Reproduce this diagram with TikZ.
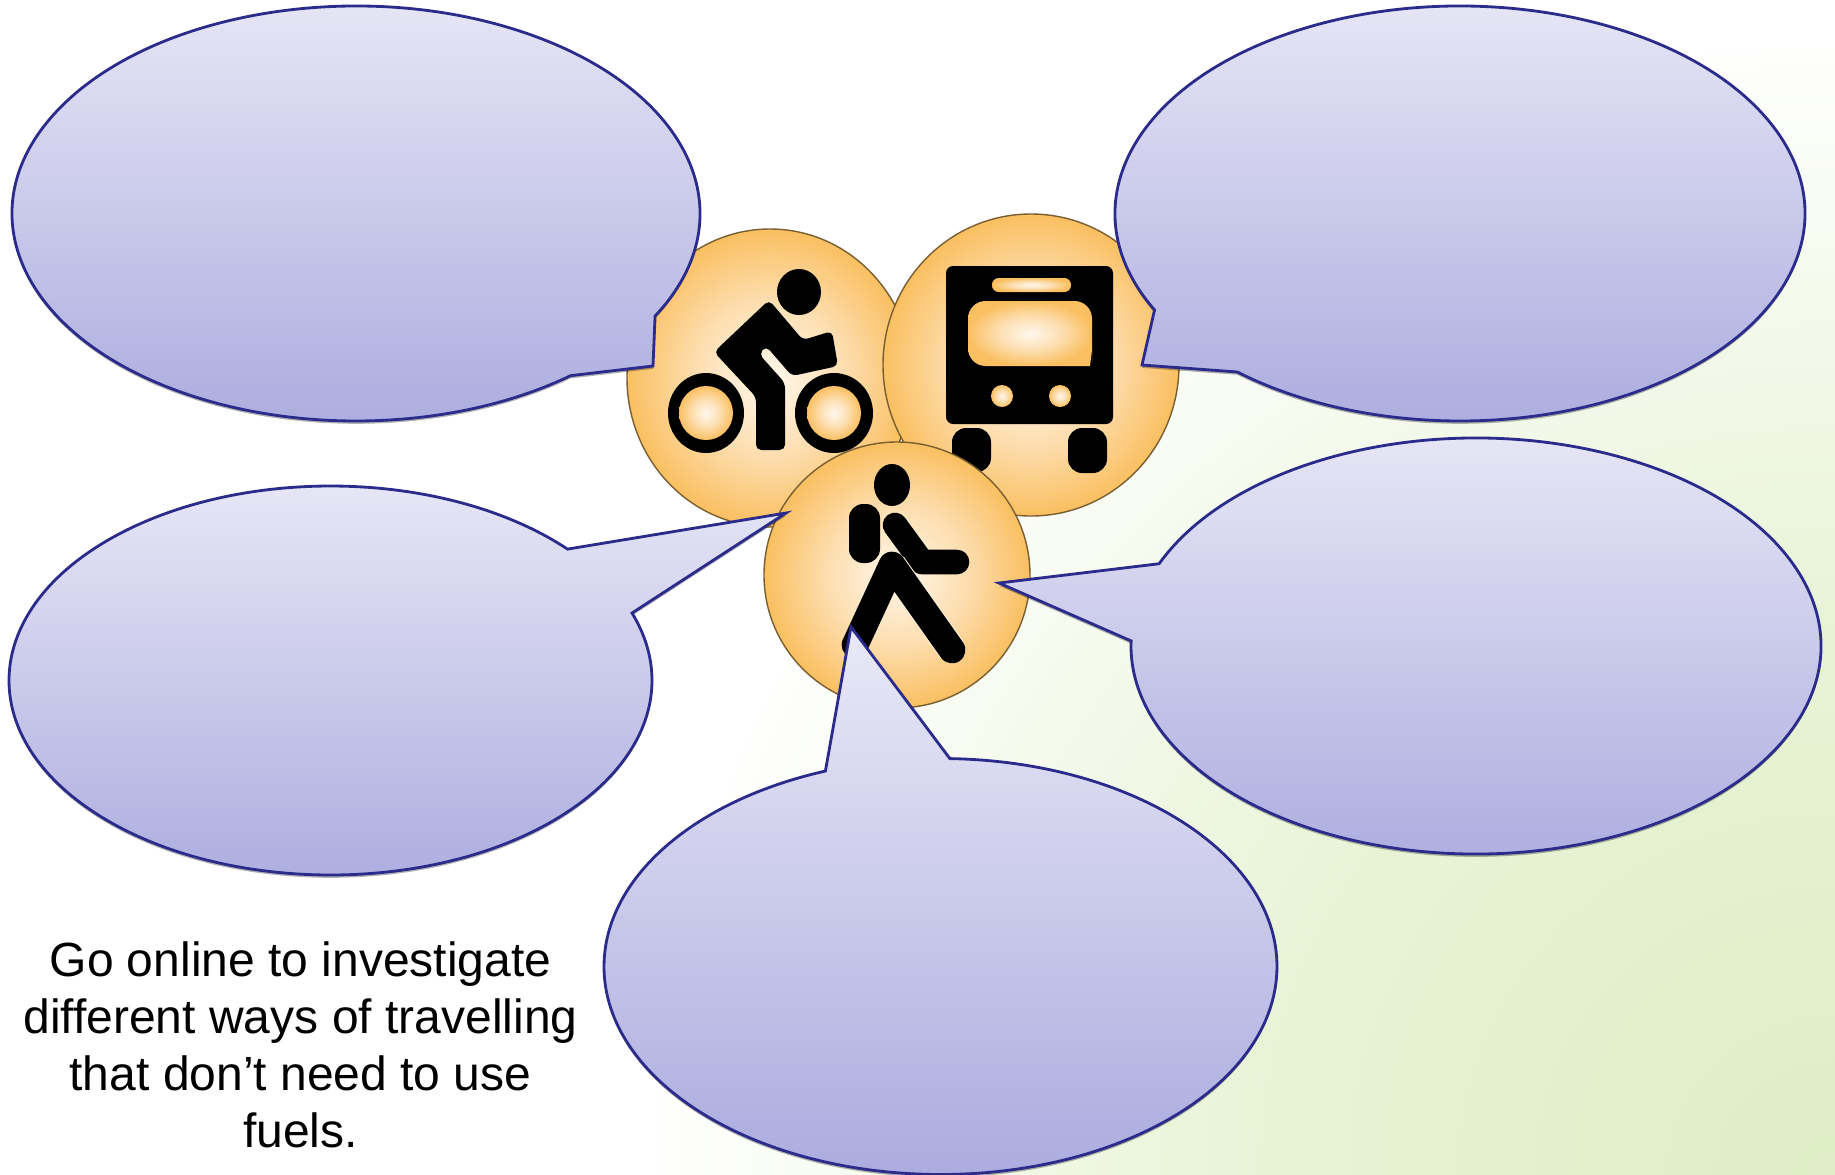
\documentclass[tikz,border=0pt]{standalone}
\usepackage{xcolor}
\usepackage{fontspec}
\setmainfont{Liberation Sans}
\usetikzlibrary{calc,shadows}

\definecolor{bubbleline}{RGB}{43,43,140}
\definecolor{bubbletop}{RGB}{233,233,247}
\definecolor{bubblebottom}{RGB}{171,171,223}
\definecolor{discline}{RGB}{120,95,50}
\definecolor{discpale}{RGB}{255,238,214}

\pgfdeclareradialshading{discglow}{\pgfpointorigin}{rgb(0bp)=(1,.97,.93); rgb(13bp)=(.99,.87,.69); rgb(25bp)=(.98,.75,.38); rgb(50bp)=(.98,.75,.38)}
\pgfdeclareradialshading{fieldglow}{\pgfpointorigin}{rgb(0bp)=(.87,.93,.77); rgb(12bp)=(.91,.955,.84); rgb(25bp)=(1,1,1); rgb(50bp)=(1,1,1)}

\tikzset{
  bubble/.style={draw=bubbleline, line width=.8pt, top color=bubbletop, bottom color=bubblebottom,
    drop shadow={shadow xshift=0pt, shadow yshift=-.8pt, opacity=.3, fill=black}},
  disc/.style={draw=discline, line width=.4pt, shading=discglow},
  hole/.style={shading=discglow},
  icon/.style={fill=black},
  limb/.style={draw=black, line width=7pt, line cap=round, line join=round},
}

\begin{document}
\begin{tikzpicture}[x=0.01cm, y=-0.01cm]
  \useasboundingbox (0,0) rectangle (1835,1175);

  % Green glow in the corner
  \begin{scope}
    \clip (0,0) rectangle (1835,1175);
    \shade[shading=fieldglow] (1835,1175) ellipse [x radius=1200, y radius=1150];
  \end{scope}

  % Cycling disc
  \path[disc] (770,378) ellipse [x radius=143, y radius=149];
  \fill[icon] (799,292) ellipse [x radius=22, y radius=23];
  \fill[icon] (706,413) ellipse [x radius=38, y radius=40];
  \fill[icon] (834,413) ellipse [x radius=39, y radius=40];
  \path[hole] (706,413) ellipse [x radius=27, y radius=27];
  \path[hole] (834,413) ellipse [x radius=27, y radius=27];
  \fill[icon, rounded corners=1.5pt] (769,300) -- (803,340) -- (832,331) -- (838,366) -- (792,376)
    -- (766,346) -- (759,354) -- (785,383) -- (785,450) -- (756,450) -- (756,397) -- (714,352) -- cycle;

  % Bus disc
  \path[disc] (1031,365) ellipse [x radius=148, y radius=151];
  \fill[icon, rounded corners=2pt] (946,266) rectangle (1113,424);
  \fill[icon, rounded corners=4pt] (952,428) rectangle (991,472);
  \fill[icon, rounded corners=4pt] (1068,428) rectangle (1107,473);
  \path[hole, rounded corners=1.9pt] (992,278) rectangle (1071,292);
  \path[hole] (1090,366) [rounded corners=5pt] -- (968,366) -- (968,301) -- (1092,301) -- (1092,345)
    [sharp corners] -- (1092,350) -- cycle;
  \path[hole] (1002,396) ellipse [x radius=11, y radius=11];
  \path[hole] (1060,396) ellipse [x radius=11, y radius=11];

  % Walking disc
  \path[disc] (897,575) ellipse [x radius=133, y radius=133];
  \fill[icon] (892,485) ellipse [x radius=18, y radius=21];
  \fill[icon, rounded corners=4pt] (849,504) rectangle (880,563);
  \draw[limb] (895,525) -- (922,562) -- (957,562);
  \draw[discpale, line width=8.2pt] (892,565) -- (952,650);
  \draw[limb, line width=7.6pt] (855,645) -- (892,565) -- (952,650);

  % Speech bubbles
  \draw[bubble] (653,366) -- ($(356,213.5)+(29.6:344 and 207.5)$)
    arc[start angle=29.6, end angle=-308.6, x radius=344, y radius=207.5] -- cycle;
  \draw[bubble] (1142,365) -- ($(1460,213.5)+(152.3:345 and 207.5)$)
    arc[start angle=152.3, end angle=490.2, x radius=345, y radius=207.5] -- cycle;
  \draw[bubble] (786,513) -- ($(330.5,680.5)+(-42.5:321.5 and 194.5)$)
    arc[start angle=-42.5, end angle=-380.3, x radius=321.5, y radius=194.5] -- cycle;
  \draw[bubble] (999,583) -- ($(1476,646)+(203.3:345 and 208)$)
    arc[start angle=203.3, end angle=541.4, x radius=345, y radius=208] -- cycle;
  \draw[bubble] (851,627) -- ($(940.5,966.5)+(271.6:336.5 and 208)$)
    arc[start angle=271.6, end angle=610, x radius=336.5, y radius=208] -- cycle;

  % Task text
  \node[align=center, font=\fontsize{13.65pt}{16.2pt}\selectfont] (task) at (300.5,1044.5)
    {Go online to investigate\\different ways of travelling\\that don’t need to use\\fuels.};
\end{tikzpicture}
\end{document}
